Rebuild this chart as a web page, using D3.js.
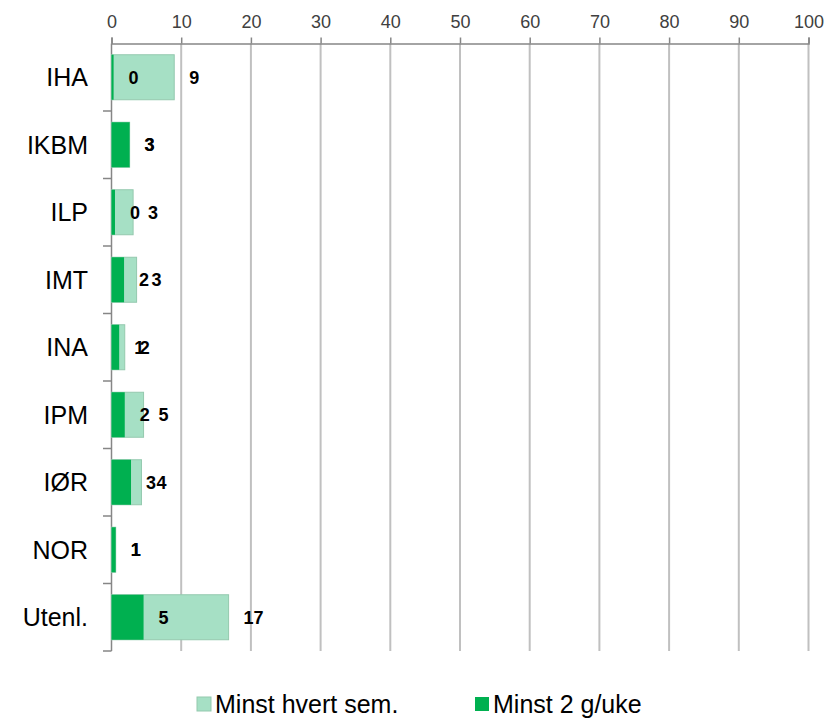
<!DOCTYPE html>
<html><head><meta charset="utf-8">
<script src="https://cdn.jsdelivr.net/npm/d3@7"></script>
<style>body{margin:0;background:#fff}svg{display:block}text{font-family:"Liberation Sans",Arial,sans-serif}</style>
</head><body><svg id="c" width="838" height="721"></svg>
<script>
const categories = ["IHA","IKBM","ILP","IMT","INA","IPM","IØR","NOR","Utenl."];
const semValues = [9.0, 2.6, 3.1, 3.6, 1.9, 4.6, 4.3, 0.6, 16.8];   // Minst hvert sem.
const ukeValues = [0.3, 2.6, 0.5, 1.8, 1.1, 1.9, 2.8, 0.6, 4.6];    // Minst 2 g/uke
const semLabels = ["9","3","3","3","2","5","4","1","17"];
const ukeLabels = ["0","3","0","2","1","2","3","1","5"];
const xTicks = [0,10,20,30,40,50,60,70,80,90,100];
const seriesNames = ["Minst hvert sem.","Minst 2 g/uke"];
const colors = ["#a6e0c5","#00b050"];

const svg = d3.select("#c");
const x = d3.scaleLinear().domain([0,100]).range([111.5,808.5]);
const y = d3.scaleBand().domain(categories).range([43.5,651]).paddingInner(1/3).paddingOuter(1/6);

// gridlines
svg.append("g").selectAll("line").data(xTicks.slice(1)).join("line")
  .attr("x1",d=>x(d)).attr("x2",d=>x(d)).attr("y1",43.5).attr("y2",651)
  .attr("stroke","#c0c0c0").attr("stroke-width",2);

// top axis
const xa = svg.append("g").attr("transform","translate(0,43.5)")
  .call(d3.axisTop(x).tickValues(xTicks).tickSize(6).tickPadding(10));
xa.select(".domain").attr("stroke","#868686").attr("stroke-width",1.5);
xa.selectAll(".tick line").attr("stroke","#868686").attr("stroke-width",1.5);
xa.selectAll(".tick text").attr("font-size",18).attr("fill","#404040")
  .attr("font-family","'Liberation Sans',Arial,sans-serif");

// left axis line and band ticks
svg.append("line").attr("x1",x(0)).attr("x2",x(0)).attr("y1",43.5).attr("y2",651)
  .attr("stroke","#868686").attr("stroke-width",1.5);
const bounds = categories.map(c=>y(c)-y.step()*y.paddingInner()/2).concat([651]);
svg.append("g").selectAll("line").data(bounds.slice(1)).join("line")
  .attr("x1",103).attr("x2",x(0)).attr("y1",d=>d).attr("y2",d=>d)
  .attr("stroke","#868686").attr("stroke-width",1.5);

// category labels
svg.append("g").selectAll("text").data(categories).join("text")
  .attr("x",88).attr("y",d=>y(d)+y.bandwidth()/2).attr("dy","0.35em")
  .attr("text-anchor","end").attr("font-size",25).attr("fill","#000").text(d=>d);

// bars
svg.append("g").selectAll("rect").data(categories).join("rect")
  .attr("x",x(0)).attr("y",d=>y(d)).attr("height",y.bandwidth())
  .attr("width",(d,i)=>x(semValues[i])-x(0))
  .attr("fill",colors[0]).attr("stroke","#94c9ae").attr("stroke-width",1);
svg.append("g").selectAll("rect").data(categories).join("rect")
  .attr("x",x(0)).attr("y",d=>y(d)).attr("height",y.bandwidth())
  .attr("width",(d,i)=>x(ukeValues[i])-x(0))
  .attr("fill",colors[1]);

// value labels
const lab = (vals,labels)=>svg.append("g").selectAll("text").data(categories).join("text")
  .attr("x",(d,i)=>x(vals[i])+15).attr("y",d=>y(d)+y.bandwidth()/2).attr("dy","0.35em")
  .attr("font-size",18).attr("font-weight","bold").attr("fill","#000")
  .text((d,i)=>labels[i]);
lab(ukeValues,ukeLabels);
lab(semValues,semLabels);

// legend
const lg = svg.append("g");
const lx = [197,475];
seriesNames.forEach((n,i)=>{
  lg.append("rect").attr("x",lx[i]).attr("y",697).attr("width",14).attr("height",14)
    .attr("fill",colors[i]).attr("stroke",i===0?"#94c9ae":"none");
  lg.append("text").attr("x",lx[i]+18).attr("y",704).attr("dy","0.35em")
    .attr("font-size",25).attr("fill","#000").text(n);
});
</script></body></html>
